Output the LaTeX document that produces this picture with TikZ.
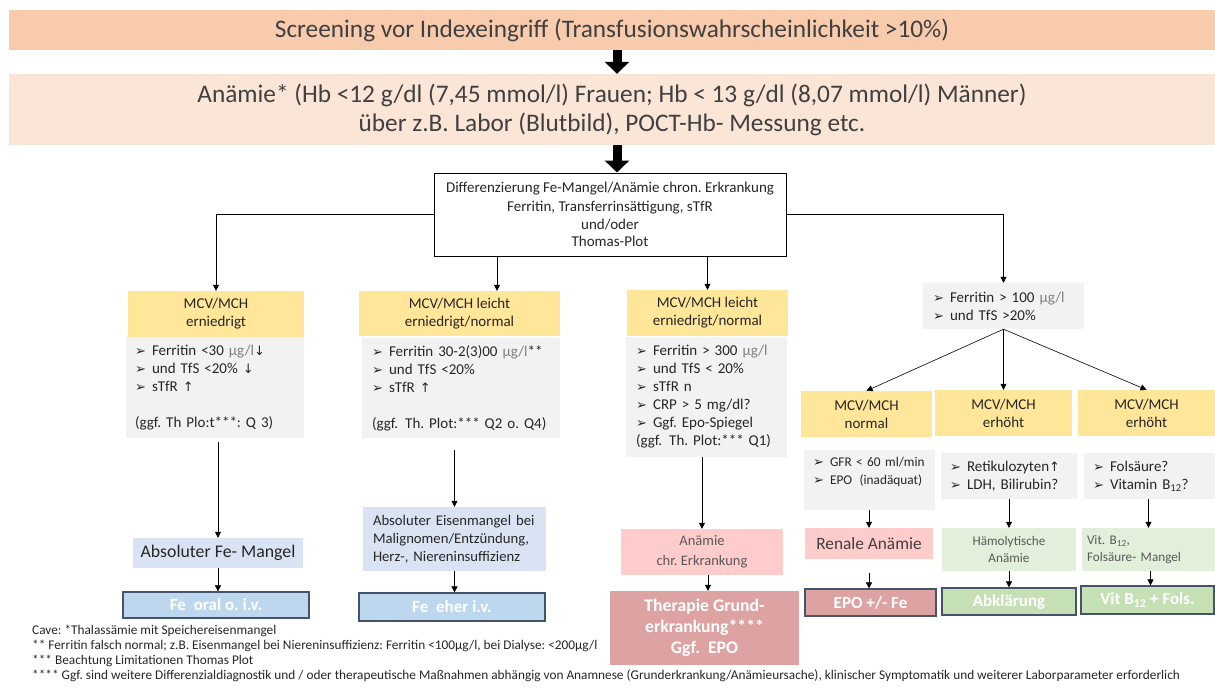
\documentclass[tikz,border=0pt]{standalone}
\usepackage{fontspec}
\setmainfont{Carlito}
\newfontfamily\symf{DejaVu Sans}
\usetikzlibrary{arrows.meta}
\frenchspacing
\definecolor{cTop}{HTML}{F8CBAD}
\definecolor{cAna}{HTML}{FBE5D6}
\definecolor{cYel}{HTML}{FFE699}
\definecolor{cGry}{HTML}{F2F2F2}
\definecolor{cLbl}{HTML}{DAE3F3}
\definecolor{cBlu}{HTML}{BDD7EE}
\definecolor{cPnk}{HTML}{FFCCCC}
\definecolor{cRed}{HTML}{DDA3A3}
\definecolor{cLgr}{HTML}{E2EFDA}
\definecolor{cGrn}{HTML}{C5E0B4}
\definecolor{cEdge}{HTML}{44546A}
\definecolor{cTxt}{HTML}{404040}
\newcommand{\bul}{\makebox[17pt][l]{\symf\fontsize{13pt}{12pt}\selectfont ➢}}
\newcommand{\arrUp}{{\symf\fontsize{13pt}{12pt}\selectfont ↑}}
\newcommand{\arrDn}{{\symf\fontsize{13pt}{12pt}\selectfont ↓}}
\newcommand{\mug}{\textcolor{black!50}{µg/l}}
\begin{document}
\begin{tikzpicture}[x=1pt,y=-1pt,>={Triangle[length=6pt,width=6pt]},
  every node/.style={inner sep=0pt,align=center,text=black!85},
  bar/.style={minimum width=1206pt,text=cTxt},
  hdr/.style={fill=cYel,font=\fontsize{15pt}{18pt}\selectfont},
  lst/.style={fill=cGry,align=left,inner xsep=10pt,font=\fontsize{15pt}{18pt}\selectfont},
  res/.style={draw=cEdge,line width=1.2pt,text=white,font=\fontsize{17pt}{20pt}\selectfont\bfseries},
  con/.style={->,line width=0.6pt},
  fat/.style={line width=9pt,-{Triangle[length=12pt,width=24pt]}}]
\useasboundingbox (0,0) rectangle (1215,688);
% Kopf
\node[bar,fill=cTop,minimum height=40pt,font=\fontsize{25.3pt}{29pt}\selectfont] (scr) at (612,30) {Screening vor Indexeingriff (Transfusionswahrscheinlichkeit >10\%)};
\node[bar,fill=cAna,minimum height=71pt,font=\fontsize{25.3pt}{29pt}\selectfont] (ana) at (612,109.5) {Anämie* (Hb <12 g/dl (7,45 mmol/l) Frauen; Hb < 13 g/dl (8,07 mmol/l) Männer)\\über z.B. Labor (Blutbild), POCT-Hb- Messung etc.};
\node[draw,line width=1pt,minimum width=352pt,minimum height=83pt,font=\fontsize{15pt}{17.5pt}\selectfont] (dif) at (610,214.5) {Differenzierung Fe-Mangel/Anämie chron. Erkrankung\\[2pt]Ferritin, Transferrinsättigung, sTfR\\und/oder\\Thomas-Plot};
\draw[fat] ([xshift=5pt]scr.south) -- ([xshift=5pt]ana.north);
\draw[fat] ([xshift=5pt]ana.south) -- ([xshift=7pt]dif.north);
% MCV/MCH
\node[hdr,minimum width=176pt,minimum height=46pt] (mcvA) at (216,314) {MCV/MCH\\erniedrigt};
\node[hdr,minimum width=201pt,minimum height=45pt] (mcvB) at (459.5,313.5) {MCV/MCH leicht\\erniedrigt/normal};
\node[hdr,minimum width=161pt,minimum height=46pt] (mcvC) at (707.5,313) {MCV/MCH leicht\\erniedrigt/normal};
\node[lst,text width=141pt,minimum height=46pt] (fer) at (1003.5,306) {\bul Ferritin > 100 \mug\\\bul und TfS >20\%};
\node[hdr,minimum width=131pt,minimum height=46pt] (mcvD) at (866.5,414) {MCV/MCH\\normal};
\node[hdr,minimum width=137pt,minimum height=46pt] (mcvE) at (1003.5,413) {MCV/MCH\\erhöht};
\node[hdr,minimum width=137pt,minimum height=46pt] (mcvF) at (1146.5,413) {MCV/MCH\\erhöht};
% Befunde
\node[lst,text width=160pt,minimum height=101pt,inner xsep=9pt] (greyA) at (215,387.5) {\bul Ferritin <30 \mug\arrDn\\\bul und TfS <20\% \arrDn\\\bul sTfR \arrUp\\~\\(ggf. Th Plo:t***: Q 3)};
\node[lst,text width=178pt,minimum height=100pt,inner xsep=10pt] (greyB) at (461,388) {\bul Ferritin 30-2(3)00 \mug**\\\bul und TfS <20\%\\\bul sTfR \arrUp\\~\\(ggf.\hspace{2pt} Th. Plot:*** Q2 o. Q4)};
\node[lst,text width=141pt,minimum height=120pt] (greyC) at (706.5,397) {\bul Ferritin > 300 \mug\\\bul und TfS < 20\%\\\bul sTfR n\\\bul CRP > 5 mg/dl?\\\bul Ggf. Epo-Spiegel\\(ggf.\hspace{2pt} Th. Plot:*** Q1)};
\node[lst,text width=113pt,minimum height=60pt,inner xsep=9pt,font=\fontsize{13.3pt}{18pt}\selectfont] (greyD) at (869.5,480) {\bul GFR < 60 ml/min\\\bul EPO\hspace{3pt} (inadäquat)\\\mbox{}};
\node[lst,text width=118pt,minimum height=46pt,inner xsep=9pt] (greyE) at (1009,476) {\bul Retikulozyten\arrUp\\\bul LDH, Bilirubin?};
\node[lst,text width=113pt,minimum height=46pt,inner xsep=9pt] (greyF) at (1149.5,476) {\bul Folsäure?\\\bul Vitamin B\textsubscript{12}?};
% Diagnosen
\node[fill=cLbl,minimum width=170pt,minimum height=30pt,font=\fontsize{17.8pt}{20pt}\selectfont] (absA) at (218,553) {Absoluter Fe- Mangel};
\node[fill=cLbl,align=left,text width=163pt,inner xsep=10pt,minimum height=64pt,font=\fontsize{14.7pt}{18pt}\selectfont] (absB) at (454.5,539) {Absoluter Eisenmangel bei\\Malignomen/Entzündung,\\Herz-, Niereninsuffizienz};
\node[fill=cPnk,minimum width=162pt,minimum height=46pt,text=black!65,font=\fontsize{14.5pt}{20pt}\selectfont] (anC) at (702,552) {Anämie\\chr. Erkrankung};
\node[fill=cPnk,minimum width=128pt,minimum height=31pt,text=black!75,font=\fontsize{17.3pt}{20pt}\selectfont] (renD) at (869,543.5) {Renale Anämie};
\node[fill=cLgr,minimum width=134pt,minimum height=43pt,text=black!65,font=\fontsize{13.2pt}{17pt}\selectfont] (haeE) at (1009,549.5) {Hämolytische\\Anämie};
\node[fill=cLgr,align=left,text width=123pt,inner xsep=5pt,minimum height=43pt,text=black!65,font=\fontsize{13.2pt}{17pt}\selectfont] (vitF) at (1148.5,549.5) {Vit. B\textsubscript{12},\\Folsäure- Mangel};
% Therapie
\node[res,fill=cBlu,minimum width=186pt,minimum height=26pt] (feA) at (216,605) {Fe\hspace{4pt} oral o. i.v.};
\node[res,fill=cBlu,minimum width=186pt,minimum height=28pt] (feB) at (452,607) {Fe\hspace{4pt} eher i.v.};
\node[fill=cRed,minimum width=189pt,minimum height=74pt,text=white,font=\fontsize{17.7pt}{21pt}\selectfont\bfseries] (thC) at (704.5,628) {Therapie Grund-\\erkrankung****\\Ggf.\hspace{4pt} EPO};
\node[res,fill=cRed,minimum width=131pt,minimum height=27pt] (epoD) at (870.5,602.5) {EPO +/- Fe};
\node[res,fill=cGrn,minimum width=134pt,minimum height=27pt] (abkE) at (1009,601.5) {Abklärung};
\node[res,fill=cGrn,minimum width=133pt,minimum height=28pt] (vitFF) at (1147.5,600) {Vit B\textsubscript{12} + Fols.};
% Pfeile
\draw[con] (dif.west) -| (mcvA.north);
\coordinate (kB) at ([xshift=37.5pt]mcvB.north);
\draw[con] (dif.south -| kB) -- (kB);
\draw[con] (dif.south -| mcvC.north) -- (mcvC.north);
\draw[con] (dif.east) -| (fer.north);
\draw[con] (fer.south) -- (mcvD.north);
\draw[con] (fer.south) -- (mcvE.north);
\draw[con] (fer.south) -- (mcvF.north);
\draw[con,shorten <=4pt] (greyA.south -| absA.north) -- (absA.north);
\draw[con] (absA.south) -- (absA.south |- feA.north);
\draw[con,shorten <=12pt] (greyB.south -| absB.north) -- (absB.north);
\draw[con] (absB.south) -- (absB.south |- feB.north);
\draw[con] (greyC.south -| anC.north) -- (anC.north);
\draw[con] ([xshift=6pt]anC.south) -- ([xshift=6pt]anC.south |- thC.north);
\draw[con] (greyD.south -| renD.north) -- (renD.north);
\draw[con,shorten <=14pt] (renD.south) -- (renD.south |- epoD.north);
\draw[con] (greyE.south -| haeE.north) -- (haeE.north);
\draw[con] (haeE.south) -- (haeE.south |- abkE.north);
\draw[con] (greyF.south -| vitF.north) -- (vitF.north);
\draw[con] ([xshift=2pt]vitF.south) -- ([xshift=2pt]vitF.south |- vitFF.north);
% Fussnoten
\node[anchor=north west,align=left,font=\fontsize{13.3pt}{15pt}\selectfont] (fn) at (32,625) {Cave: *Thalassämie mit Speichereisenmangel\\** Ferritin falsch normal; z.B. Eisenmangel bei Niereninsuffizienz: Ferritin <100µg/l, bei Dialyse: <200µg/l\\*** Beachtung Limitationen Thomas Plot\\**** Ggf. sind weitere Differenzialdiagnostik und / oder therapeutische Maßnahmen abhängig von Anamnese (Grunderkrankung/Anämieursache), klinischer Symptomatik und weiterer Laborparameter erforderlich};
\end{tikzpicture}
\end{document}
